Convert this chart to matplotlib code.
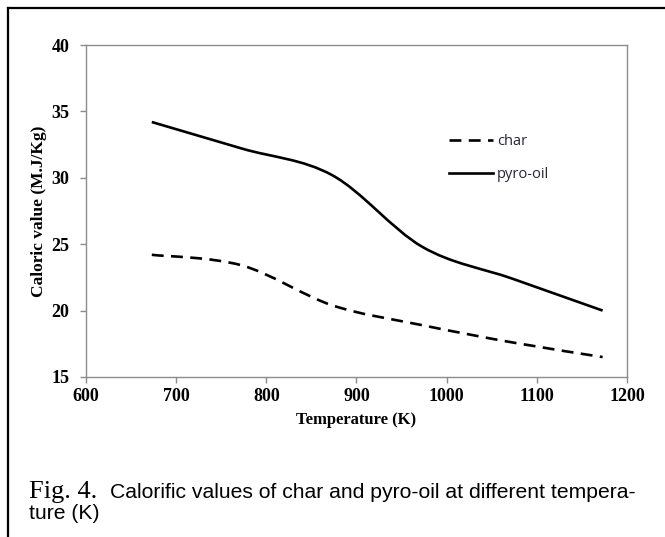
import numpy as np
import matplotlib.pyplot as plt
from matplotlib.path import Path
from matplotlib.patches import PathPatch
from matplotlib.lines import Line2D

temperature = [673, 773, 873, 973, 1073, 1173]
char = [24.2, 23.4, 20.4, 18.9, 17.6, 16.5]
pyro_oil = [34.2, 32.2, 30.2, 24.8, 22.4, 20.0]

xticks = [600, 700, 800, 900, 1000, 1100, 1200]
yticks = [15, 20, 25, 30, 35, 40]


def smooth_path(x, y):
    # excel style smoothed line: bezier through the points
    p = np.column_stack([x, y]).astype(float)
    p = np.vstack([p[:1], p, p[-1:]])
    verts = [p[1]]
    codes = [Path.MOVETO]
    for i in range(1, len(p) - 2):
        c1 = p[i] + (p[i + 1] - p[i - 1]) / 6
        c2 = p[i + 1] - (p[i + 2] - p[i]) / 6
        verts += [c1, c2, p[i + 1]]
        codes += [Path.CURVE4] * 3
    return Path(verts, codes)


fig = plt.figure(figsize=(6.65, 5.37), dpi=100)
ax = fig.add_axes([0.1293, 0.2980, 0.8135, 0.6182])

serif = 'Liberation Serif'
grey = '#8c8c8c'
dash = (0, (4.5, 2.8))

ax.add_patch(PathPatch(smooth_path(temperature, char), fill=False, color='black',
                       lw=1.9, linestyle=dash, capstyle='butt'))
ax.add_patch(PathPatch(smooth_path(temperature, pyro_oil), fill=False, color='black',
                       lw=1.9))

ax.set_xlim(600, 1200)
ax.set_ylim(15, 40)
ax.set_xticks(xticks)
ax.set_yticks(yticks)
for s in ax.spines.values():
    s.set_color(grey)
    s.set_linewidth(1.0)
ax.tick_params(axis='both', direction='out', length=4, width=1, color=grey)
ax.tick_params(axis='y', pad=8)
ax.tick_params(axis='x', pad=4)
for lab in ax.get_xticklabels() + ax.get_yticklabels():
    lab.set_fontfamily(serif)
    lab.set_fontweight('bold')
    lab.set_fontsize(13)

ax.set_xlabel('Temperature (K)', fontfamily=serif, fontweight='bold', fontsize=12, labelpad=5)
ax.set_ylabel('Caloric value (M.J/Kg)', fontfamily=serif, fontweight='bold', fontsize=12.5, labelpad=3)

handles = [Line2D([], [], color='black', lw=1.9, linestyle=dash),
           Line2D([], [], color='black', lw=1.9)]
leg = ax.legend(handles, ['char', 'pyro-oil'], loc='upper left',
                bbox_to_anchor=(449 / 665, 1 - 134 / 537), bbox_transform=fig.transFigure,
                frameon=False, borderpad=0, borderaxespad=0, handlelength=3.0,
                handletextpad=0.3, labelspacing=1.25,
                prop={'family': 'Open Sans', 'size': 10.5})
for t in leg.get_texts():
    t.set_color('#2a2233')

# outer frame around the figure panel
fig.add_artist(Line2D([8 / 665, 8 / 665], [0, 1 - 8 / 537], color='black', lw=1.6,
                      transform=fig.transFigure))
fig.add_artist(Line2D([8 / 665, 1], [1 - 8 / 537, 1 - 8 / 537], color='black', lw=1.6,
                      transform=fig.transFigure))

# caption
fig.text(29 / 665, 1 - 498 / 537, 'Fig. 4.', fontfamily=serif, fontsize=19, va='baseline')
fig.text(110 / 665, 1 - 498 / 537, 'Calorific values of char and pyro-oil at different tempera-',
         fontfamily='Liberation Sans', fontsize=15.2, va='baseline')
fig.text(29 / 665, 1 - 519 / 537, 'ture (K)', fontfamily='Liberation Sans', fontsize=15.2,
         va='baseline')

fig.savefig('out.png', dpi=100)
